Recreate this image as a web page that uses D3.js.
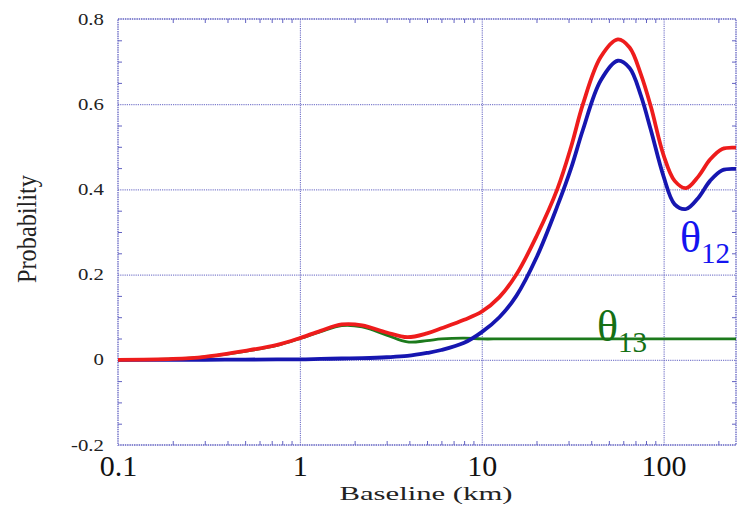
<!DOCTYPE html>
<html>
<head>
<meta charset="utf-8">
<script src="https://cdn.jsdelivr.net/npm/d3@7"></script>
<style>
  body { margin: 0; background: #fff; }
  text { font-family: "Liberation Serif", "DejaVu Serif", serif; }
</style>
</head>
<body>
<script>
// baseline samples (km) shared by the three curves
const baselineKm = [0.1, 0.2, 0.3, 0.5, 0.75, 1, 1.3, 1.7, 2.2, 3, 3.9, 5, 6, 8, 10,
    12.5, 15.5, 20, 26, 31, 36, 45, 56, 65, 75, 85, 100, 115, 133, 155, 180, 210, 250];

const probTotal = [0, 0.002, 0.007, 0.021, 0.035, 0.051, 0.068, 0.083, 0.081, 0.064, 0.053,
    0.062, 0.074, 0.094, 0.113, 0.147, 0.20, 0.29, 0.40, 0.50, 0.60, 0.71, 0.752, 0.733,
    0.67, 0.595, 0.48, 0.42, 0.403, 0.43, 0.47, 0.495, 0.498];

const probTheta12 = [0, 0, 0, 0.0005, 0.001, 0.001, 0.002, 0.003, 0.004, 0.006, 0.009,
    0.016, 0.023, 0.04, 0.065, 0.10, 0.15, 0.24, 0.36, 0.45, 0.54, 0.655, 0.702, 0.685,
    0.62, 0.54, 0.43, 0.365, 0.354, 0.38, 0.42, 0.445, 0.448];

const probTheta13 = [0, 0.002, 0.007, 0.02, 0.034, 0.05, 0.066, 0.08, 0.077, 0.058, 0.042,
    0.045, 0.049, 0.051, 0.049, 0.049, 0.049, 0.049, 0.049, 0.049, 0.049, 0.049, 0.049, 0.049,
    0.049, 0.049, 0.049, 0.049, 0.049, 0.049, 0.049, 0.049, 0.049];

const xTicks = [0.1, 1, 10, 100];
const xTickLabels = ["0.1", "1", "10", "100"];
const yTicks = [-0.2, 0, 0.2, 0.4, 0.6, 0.8];
const yTickLabels = ["-0.2", "0", "0.2", "0.4", "0.6", "0.8"];

const W = 737, H = 506;
const plot = {left: 118, right: 736, top: 19, bottom: 445};

const svg = d3.select('body').append('svg')
    .attr('width', W)
    .attr('height', H);

const x = d3.scaleLog()
    .domain([0.1, 250])
    .range([plot.left, plot.right]);

const y = d3.scaleLinear()
    .domain([-0.2, 0.8])
    .range([plot.bottom, plot.top]);

const gridColor = '#6262c2';

// minor ticks: 2..9 in each decade, every 0.05 on y
const xMinor = [];
[0.1, 1, 10, 100].forEach(d => {
    for (let k = 2; k <= 9; k++) {
        const v = +(d * k).toPrecision(3);
        if (v < 250) xMinor.push(v);
    }
});
const yMinor = d3.range(-0.15, 0.8, 0.05).map(v => +v.toFixed(2))
    .filter(v => Math.abs(Math.round(v / 0.2) * 0.2 - v) > 0.01);

// grid lines
svg.append('g')
    .attr('transform', `translate(0, ${plot.bottom})`)
    .call(d3.axisBottom(x).tickValues([1, 10, 100]).tickSize(-(plot.bottom - plot.top)).tickFormat(''))
    .call(g => g.select('.domain').remove())
    .call(g => g.selectAll('line').attr('stroke', gridColor).attr('stroke-dasharray', '1.2,1'));

svg.append('g')
    .attr('transform', `translate(${plot.left}, 0)`)
    .call(d3.axisLeft(y).tickValues([0, 0.2, 0.4, 0.6]).tickSize(-(plot.right - plot.left)).tickFormat(''))
    .call(g => g.select('.domain').remove())
    .call(g => g.selectAll('line').attr('stroke', gridColor).attr('stroke-dasharray', '1.2,1'));

// frame
svg.append('rect')
    .attr('x', plot.left)
    .attr('y', plot.top)
    .attr('width', plot.right - plot.left)
    .attr('height', plot.bottom - plot.top)
    .attr('fill', 'none')
    .attr('stroke', gridColor)
    .attr('stroke-width', 1.3)
    .attr('stroke-dasharray', '1.5,0.8');

// inward minor ticks on all four sides
const minorStyle = g => {
    g.select('.domain').remove();
    g.selectAll('line').attr('stroke', gridColor).attr('stroke-width', 1);
};
svg.append('g')
    .attr('transform', `translate(0, ${plot.bottom})`)
    .call(d3.axisTop(x).tickValues(xMinor).tickSize(4).tickFormat(''))
    .call(minorStyle);
svg.append('g')
    .attr('transform', `translate(0, ${plot.top})`)
    .call(d3.axisBottom(x).tickValues(xMinor).tickSize(4).tickFormat(''))
    .call(minorStyle);
svg.append('g')
    .attr('transform', `translate(${plot.left}, 0)`)
    .call(d3.axisRight(y).tickValues(yMinor).tickSize(4).tickFormat(''))
    .call(minorStyle);
svg.append('g')
    .attr('transform', `translate(${plot.right}, 0)`)
    .call(d3.axisLeft(y).tickValues(yMinor).tickSize(4).tickFormat(''))
    .call(minorStyle);

// tick labels
svg.append('g')
    .attr('transform', `translate(0, ${plot.bottom})`)
    .call(d3.axisBottom(x).tickValues(xTicks).tickSize(0)
        .tickFormat((d, i) => xTickLabels[i]))
    .call(g => g.select('.domain').remove())
    .call(g => g.selectAll('text')
        .attr('y', 31)
        .attr('dy', 0)
        .attr('font-size', 30)
        .attr('fill', '#111')
        .style('font-family', '"Liberation Serif", serif'));

svg.append('g')
    .attr('transform', `translate(${plot.left}, 0)`)
    .call(d3.axisLeft(y).tickValues(yTicks).tickSize(0)
        .tickFormat((d, i) => yTickLabels[i]))
    .call(g => g.select('.domain').remove())
    .call(g => g.selectAll('.tick text')
        .attr('x', -10.8)
        .attr('font-size', 16)
        .attr('fill', '#222')
        .attr('transform', 'scale(1.3,1)')
        .style('font-family', '"Liberation Serif", serif'));

// axis titles
svg.append('text')
    .attr('x', 426)
    .attr('y', 500)
    .attr('text-anchor', 'middle')
    .attr('font-size', 19)
    .attr('textLength', 173)
    .attr('lengthAdjust', 'spacingAndGlyphs')
    .attr('fill', '#222')
    .text('Baseline (km)');

svg.append('text')
    .attr('transform', 'translate(36, 229) rotate(-90)')
    .attr('text-anchor', 'middle')
    .attr('font-size', 27)
    .attr('textLength', 108)
    .attr('lengthAdjust', 'spacingAndGlyphs')
    .attr('fill', '#222')
    .text('Probability');

// curves
const line = vals => d3.line()
    .x((d, i) => x(baselineKm[i]))
    .y(d => y(d))
    .curve(d3.curveCatmullRom.alpha(0.5))(vals);

const series = [
    {values: probTheta13, color: '#1c7a1c', width: 2.8},
    {values: probTheta12, color: '#1616b0', width: 3.8},
    {values: probTotal, color: '#ee1c1c', width: 3.8}
];

svg.append('g')
    .selectAll('path')
    .data(series)
    .enter()
    .append('path')
    .attr('d', d => line(d.values))
    .attr('fill', 'none')
    .attr('stroke', d => d.color)
    .attr('stroke-width', d => d.width)
    .attr('stroke-linejoin', 'round');

// curve labels
const t12 = svg.append('text')
    .attr('x', 680)
    .attr('y', 252)
    .attr('fill', '#1414f0');
t12.append('tspan').attr('font-size', 44).text('θ');
t12.append('tspan').attr('font-size', 29).attr('dy', 11).text('12');

const t13 = svg.append('text')
    .attr('x', 597)
    .attr('y', 341)
    .attr('fill', '#157015');
t13.append('tspan').attr('font-size', 44).text('θ');
t13.append('tspan').attr('font-size', 29).attr('dy', 11).text('13');
</script>
</body>
</html>
